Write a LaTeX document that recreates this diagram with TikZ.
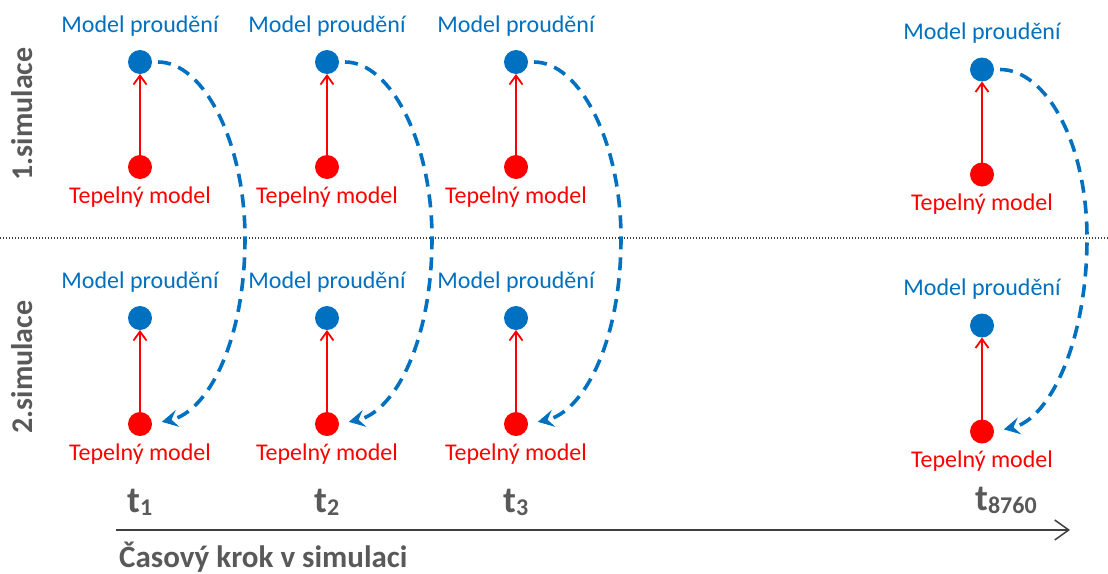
\documentclass[tikz,border=0pt]{standalone}
\usepackage{fontspec}
\setmainfont{Carlito}
\usetikzlibrary{arrows.meta}
\definecolor{mblue}{HTML}{0070C0}
\definecolor{mred}{HTML}{FF0000}
\definecolor{mgray}{HTML}{595959}
\definecolor{lgray}{HTML}{404040}
\newcommand\tlab[1]{t\raisebox{-3pt}{\fontsize{24}{26}\selectfont #1}}
\begin{document}
\begin{tikzpicture}[x=1pt,y=-1pt,
  bdot/.style={circle,fill=mblue,minimum size=24pt,inner sep=0pt,outer sep=0pt},
  rdot/.style={circle,fill=mred,minimum size=24pt,inner sep=0pt,outer sep=0pt},
  blab/.style={text=mblue,font=\fontsize{24}{28}\selectfont,anchor=base,inner sep=0pt},
  rlab/.style={text=mred,font=\fontsize{24}{28}\selectfont,anchor=base,inner sep=0pt},
  heat/.style={draw=mred,line width=1.8pt,-{Straight Barb[length=9pt,width=13pt,line width=1.8pt]}},
  flow/.style={draw=mblue,line width=3.6pt,dash pattern=on 13pt off 8pt,
     -{Stealth[length=16pt,width=17pt,inset=6pt]},shorten >=10pt,shorten <=6pt},
  simlab/.style={text=mgray,font=\bfseries\fontsize{30}{33}\selectfont,rotate=90,inner sep=0pt},
  tstyle/.style={text=mgray,font=\bfseries\fontsize{37}{40}\selectfont,anchor=base west,inner sep=0pt},
  axis/.style={draw=lgray,line width=1.5pt,-{Straight Barb[length=14pt,width=20pt,line width=1.5pt]}},
  sep/.style={draw=lgray,line width=1.2pt,dash pattern=on 1.4pt off 1.6pt}
]
\useasboundingbox (0,0) rectangle (1108,573);

% separator
\coordinate (s0) at (0,238);
\coordinate (s1) at (1108,238);
\draw[sep] (s0) -- (s1);

% row labels
\node[simlab] (sim1) at (22,114) {1.simulace};
\node[simlab] (sim2) at (22,367) {2.simulace};

\foreach \i/\x/\dy in {1/140/0, 2/327/0, 3/516/0, 4/982/7.5}
{
  % top row
  \node[bdot] (tb\i) at (\x,{62+\dy}) {};
  \node[rdot] (tr\i) at (\x,{167+\dy}) {};
  \node[blab] (tbl\i) at (\x,{32+\dy}) {Model proudění};
  \node[rlab] (trl\i) at (\x,{203+\dy}) {Tepelný model};
  \draw[heat] (tr\i) -- (tb\i);
  % bottom row
  \node[bdot] (bb\i) at (\x,{318+\dy}) {};
  \node[rdot] (br\i) at (\x,{424+\dy}) {};
  \node[blab] (bbl\i) at (\x,{288+\dy}) {Model proudění};
  \node[rlab] (brl\i) at (\x,{460+\dy}) {Tepelný model};
  \draw[heat] (br\i) -- (bb\i);
  % flow connection
  \coordinate (m\i) at ({\x+105},238);
  \draw[flow] (tb\i.east) .. controls +(52,0) and +(0,-95) .. (m\i)
     .. controls +(0,105) and +(55,-12) .. (br\i.east);
}

% time labels
\node[tstyle] (t1) at (127,512) {\tlab{1}};
\node[tstyle] (t2) at (314,512) {\tlab{2}};
\node[tstyle] (t3) at (503,512) {\tlab{3}};
\node[tstyle] (t4) at (975,510) {\tlab{8760}};

% axis
\coordinate (a0) at (116,530);
\coordinate (a1) at (1070,530);
\draw[axis] (a0) -- (a1);
\node[text=mgray,font=\bfseries\fontsize{31}{34}\selectfont,anchor=base west,inner sep=0pt] (axl) at (119,567) {Časový krok v simulaci};
\end{tikzpicture}
\end{document}
